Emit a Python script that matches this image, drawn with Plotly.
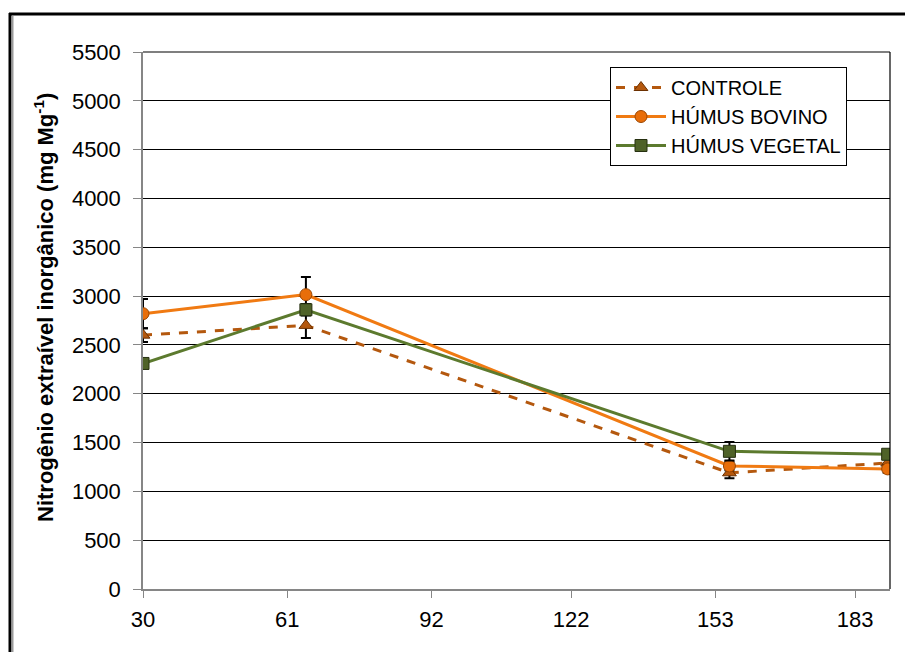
import plotly.graph_objects as go

# ---- data ----
dias = [30, 65, 156, 190]
controle = [2600, 2700, 1190, 1290]
controle_err = [70, 130, 55, 40]
bovino = [2820, 3015, 1260, 1230]
bovino_err = [150, 180, 45, 40]
vegetal = [2310, 2860, 1410, 1380]
vegetal_err = [40, 60, 95, 40]
x_ticks = [30, 61, 92, 122, 153, 183]
y_ticks = list(range(0, 5501, 500))

FONT = "Liberation Sans, Arial, sans-serif"

fig = go.Figure()

def eb(vals):
    return dict(type="data", array=vals, visible=True, color="black", thickness=2, width=5)

fig.add_trace(go.Scatter(
    x=dias, y=controle, name="CONTROLE", mode="lines+markers",
    line=dict(color="#B4580E", width=3, dash="dash"),
    marker=dict(symbol="triangle-up", size=12, color="#B4580E", line=dict(color="#6B3000", width=1)),
    error_y=eb(controle_err)))
fig.add_trace(go.Scatter(
    x=dias, y=bovino, name="HÚMUS BOVINO", mode="lines+markers",
    line=dict(color="#F07A12", width=3),
    marker=dict(symbol="circle", size=12, color="#E86E0A", line=dict(color="#9A4500", width=1)),
    error_y=eb(bovino_err)))
fig.add_trace(go.Scatter(
    x=dias, y=vegetal, name="HÚMUS VEGETAL", mode="lines+markers",
    line=dict(color="#5C7A2E", width=3),
    marker=dict(symbol="square", size=12, color="#4F6228", line=dict(color="#263010", width=1)),
    error_y=eb(vegetal_err)))

L, R, T, B = 143, 15, 52, 63
W, H = 905, 652
pw, ph = W - L - R, H - T - B

def px(xp):
    return (xp - L) / pw

def py(yp):
    return (H - B - yp) / ph

shapes = [
    dict(type="line", xref="paper", yref="paper", x0=1, x1=1, y0=0, y1=1,
         line=dict(color="black", width=1.2)),
    dict(type="line", xref="paper", yref="paper", x0=0, x1=1, y0=1, y1=1,
         line=dict(color="black", width=1.2)),
    dict(type="line", xref="paper", yref="paper", x0=px(9), x1=px(920), y0=py(14), y1=py(14),
         line=dict(color="black", width=3)),
    dict(type="line", xref="paper", yref="paper", x0=px(10), x1=px(10), y0=py(13), y1=py(670),
         line=dict(color="black", width=3)),
    dict(type="line", xref="paper", yref="paper", x0=px(12.5), x1=px(12.5), y0=py(16), y1=py(670),
         line=dict(color="#9a9a9a", width=2)),
]

fig.update_layout(
    width=W, height=H,
    margin=dict(l=L, r=R, t=T, b=B),
    paper_bgcolor="white", plot_bgcolor="white",
    font=dict(family=FONT, size=22, color="black"),
    showlegend=True,
    legend=dict(x=px(610), y=py(67), xanchor="left", yanchor="top",
                bgcolor="white", bordercolor="black", borderwidth=1,
                font=dict(family=FONT, size=20, color="black"),
                itemwidth=50, tracegroupgap=0),
    xaxis=dict(range=[30, 190.5], tickvals=x_ticks, ticktext=[str(v) for v in x_ticks],
               showgrid=False, zeroline=False, showline=True, linecolor="#868686", linewidth=1.5,
               ticks="outside", ticklen=7, tickcolor="#868686", tickwidth=1,
               ticklabelstandoff=3,
               tickfont=dict(family=FONT, size=22, color="black")),
    yaxis=dict(range=[0, 5500], tickvals=y_ticks, showgrid=True, gridcolor="black", gridwidth=1,
               zeroline=False, showline=True, linecolor="#868686", linewidth=1.5,
               ticks="outside", ticklen=8, tickcolor="#868686", tickwidth=1,
               ticklabelstandoff=8,
               tickfont=dict(family=FONT, size=22, color="black")),
    shapes=shapes,
    annotations=[dict(
        text="<b>Nitrogênio extraível inorgânico (mg Mg<sup>-1</sup>)</b>",
        xref="paper", yref="paper", x=px(44), y=py(308), textangle=-90,
        showarrow=False, font=dict(family=FONT, size=22, color="black"),
        xanchor="center", yanchor="middle")],
)

fig.write_html("out.html")
